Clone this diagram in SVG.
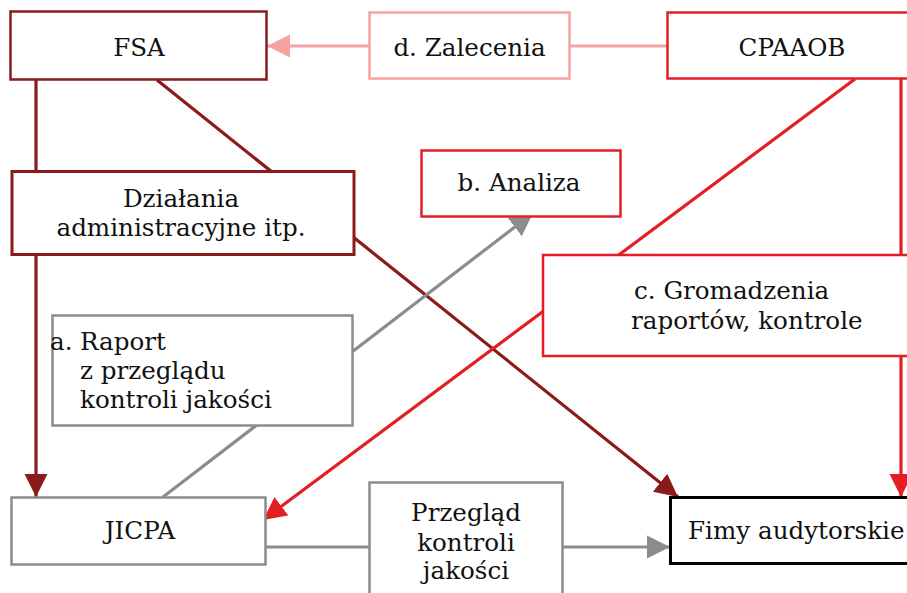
<svg xmlns="http://www.w3.org/2000/svg" width="907" height="593" viewBox="0 0 907 593">
<style>
.t{font-family:"DejaVu Serif","Liberation Serif",serif;font-size:24.6px;fill:#111}
.box{fill:#fff}
.dr{stroke:#8B1A1A}
.rd{stroke:#E31E24}
.pk{stroke:#F4A3A3}
.gy{stroke:#8C8C8C}
.ln{fill:none;stroke-width:3.2}
</style>
<defs>
<marker id="aDr" markerUnits="userSpaceOnUse" markerWidth="24" markerHeight="24" viewBox="0 0 24 24" refX="23" refY="12" orient="auto"><path d="M0,0.5 L23,12 L0,23.5 Z" fill="#8B1A1A"/></marker>
<marker id="aRd" markerUnits="userSpaceOnUse" markerWidth="24" markerHeight="24" viewBox="0 0 24 24" refX="23" refY="12" orient="auto"><path d="M0,0.5 L23,12 L0,23.5 Z" fill="#E31E24"/></marker>
<marker id="aPk" markerUnits="userSpaceOnUse" markerWidth="24" markerHeight="24" viewBox="0 0 24 24" refX="23" refY="12" orient="auto"><path d="M0,0.5 L23,12 L0,23.5 Z" fill="#F4A3A3"/></marker>
<marker id="aGy" markerUnits="userSpaceOnUse" markerWidth="24" markerHeight="24" viewBox="0 0 24 24" refX="23" refY="12" orient="auto"><path d="M0,0.5 L23,12 L0,23.5 Z" fill="#8C8C8C"/></marker>
</defs>
<rect width="907" height="593" fill="#fff"/>
<g id="connectors">
<line class="ln pk" x1="667" y1="46" x2="267" y2="46" marker-end="url(#aPk)"/>
<line class="ln dr" x1="36" y1="80" x2="36" y2="497" marker-end="url(#aDr)"/>
<line class="ln dr" x1="157" y1="80" x2="678" y2="497" marker-end="url(#aDr)"/>
<line class="ln rd" x1="855" y1="79" x2="263" y2="520" marker-end="url(#aRd)"/>
<line class="ln rd" x1="901" y1="79" x2="901" y2="497" marker-end="url(#aRd)"/>
<line class="ln gy" x1="163" y1="497" x2="533" y2="213" marker-end="url(#aGy)"/>
<line class="ln gy" x1="265" y1="547" x2="670" y2="547" marker-end="url(#aGy)"/>
</g>
<g id="fsa">
<rect class="box dr" x="10.5" y="11.5" width="256" height="68" stroke-width="2.5"/>
<text class="t" x="139" y="56" text-anchor="middle">FSA</text>
</g>
<g id="zalecenia">
<rect class="box pk" x="369.5" y="12.5" width="200" height="66" stroke-width="2.5"/>
<text class="t" x="469.5" y="56" text-anchor="middle">d. Zalecenia</text>
</g>
<g id="cpaaob">
<rect class="box rd" x="667.5" y="12.5" width="260" height="66" stroke-width="2.5"/>
<text class="t" x="792" y="56" text-anchor="middle">CPAAOB</text>
</g>
<g id="dzialania">
<rect class="box dr" x="12" y="171.5" width="342" height="83" stroke-width="3"/>
<text class="t" x="181" y="207" text-anchor="middle">Działania</text>
<text class="t" x="181" y="236" text-anchor="middle">administracyjne itp.</text>
</g>
<g id="analiza">
<rect class="box rd" x="421.5" y="150.5" width="199" height="66" stroke-width="2.5"/>
<text class="t" x="519" y="191" text-anchor="middle">b. Analiza</text>
</g>
<g id="gromadzenia">
<rect class="box rd" x="543" y="255" width="380" height="101" stroke-width="2.5"/>
<text class="t" x="634" y="299">c. Gromadzenia</text>
<text class="t" x="631" y="329">raportów, kontrole</text>
</g>
<g id="raport">
<rect class="box gy" x="52.5" y="315.5" width="300" height="110" stroke-width="2.5"/>
<text class="t" x="50" y="350">a.<tspan x="80">Raport</tspan></text>
<text class="t" x="80" y="379">z przeglądu</text>
<text class="t" x="80" y="408">kontroli jakości</text>
</g>
<g id="jicpa">
<rect class="box gy" x="11.5" y="497.5" width="254" height="67" stroke-width="2.5"/>
<text class="t" x="140" y="539" text-anchor="middle">JICPA</text>
</g>
<g id="przeglad">
<rect class="box gy" x="369.5" y="482.5" width="193" height="130" stroke-width="2.5"/>
<text class="t" x="466" y="521" text-anchor="middle">Przegląd</text>
<text class="t" x="466" y="551" text-anchor="middle">kontroli</text>
<text class="t" x="466" y="579" text-anchor="middle">jakości</text>
</g>
<g id="firmy">
<rect class="box" x="670.5" y="497.5" width="260" height="66" stroke="#000" stroke-width="3"/>
<text class="t" x="688" y="539">Fimy audytorskie</text>
</g>
</svg>
